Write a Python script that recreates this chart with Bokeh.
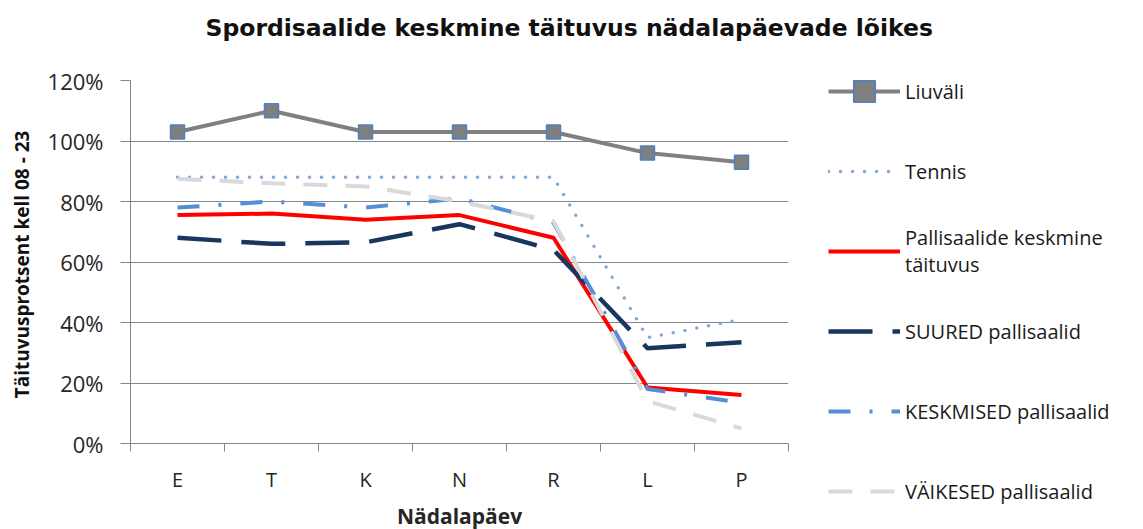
from bokeh.plotting import figure
from bokeh.models import (FixedTicker, NumeralTickFormatter, Range1d, Legend, LegendItem, Title)
from bokeh.embed import file_html
from bokeh.resources import INLINE

days = ["E", "T", "K", "N", "R", "L", "P"]
liuvali = [1.03, 1.10, 1.03, 1.03, 1.03, 0.96, 0.93]
tennis = [0.88, 0.88, 0.88, 0.88, 0.88, 0.35, 0.41]
pallisaalid = [0.755, 0.76, 0.74, 0.755, 0.68, 0.185, 0.16]
suured = [0.68, 0.66, 0.665, 0.725, 0.64, 0.315, 0.335]
keskmised = [0.78, 0.80, 0.78, 0.81, 0.73, 0.18, 0.135]
vaikesed = [0.875, 0.86, 0.85, 0.80, 0.735, 0.14, 0.05]

FONT = "Open Sans"
TXT = "#262626"

xs = [i + 0.5 for i in range(len(days))]

p = figure(frame_width=658, frame_height=363, output_backend="svg", toolbar_location=None,
           title_location=None,
           x_range=Range1d(0, len(days)), y_range=Range1d(0, 1.2),
           min_border_left=130, min_border_right=0, min_border_top=80, min_border_bottom=80)
p.outline_line_color = None
p.background_fill_color = "white"

# axes
p.xaxis.ticker = FixedTicker(ticks=xs, minor_ticks=list(range(len(days) + 1)))
p.xaxis.major_label_overrides = {x: d for x, d in zip(xs, days)}
p.xaxis.major_tick_line_color = None
p.xaxis.major_tick_out = 0
p.xaxis.major_tick_in = 0
p.xaxis.minor_tick_line_color = "#868686"
p.xaxis.minor_tick_out = 8
p.xaxis.minor_tick_in = 0
p.xaxis.axis_line_color = "#868686"
p.xaxis.major_label_text_font = FONT
p.xaxis.major_label_text_font_size = "20px"
p.xaxis.major_label_text_color = TXT
p.xaxis.major_label_standoff = 14
p.xaxis.axis_label = "Nädalapäev"
p.xaxis.axis_label_text_font = FONT
p.xaxis.axis_label_text_font_style = "bold"
p.xaxis.axis_label_text_font_size = "21px"
p.xaxis.axis_label_text_color = TXT
p.xaxis.axis_label_standoff = 6

p.yaxis.ticker = FixedTicker(ticks=[0, 0.2, 0.4, 0.6, 0.8, 1.0, 1.2])
p.yaxis.formatter = NumeralTickFormatter(format="0%")
p.yaxis.minor_tick_line_color = None
p.yaxis.major_tick_line_color = "#868686"
p.yaxis.major_tick_out = 10
p.yaxis.major_tick_in = 0
p.yaxis.axis_line_color = "#868686"
p.yaxis.major_label_text_font = FONT
p.yaxis.major_label_text_font_size = "22px"
p.yaxis.major_label_text_color = TXT
p.yaxis.major_label_standoff = 17
p.yaxis.axis_label = "Täituvusprotsent  kell 08 - 23"
p.yaxis.axis_label_text_font = FONT
p.yaxis.axis_label_text_font_style = "bold"
p.yaxis.axis_label_text_font_size = "19px"
p.yaxis.axis_label_text_color = "#111111"
p.yaxis.axis_label_standoff = 10

p.xgrid.grid_line_color = None
p.ygrid.grid_line_color = "#868686"
p.ygrid.grid_line_width = 1

# spacer (closest to the frame) then the chart title above it
p.add_layout(Title(text=" ", text_font_size="1px", standoff=30), "above")
p.add_layout(Title(text="Spordisaalide keskmine täituvus nädalapäevade lõikes", align="left", offset=75,
                   text_font="DejaVu Sans", text_font_size="23.5px", text_font_style="bold", text_color="#111111",
                   standoff=12), "above")

# series
r1 = p.line(xs, liuvali, line_color="#808080", line_width=4)
r1m = p.scatter(xs, liuvali, marker="square", size=14, fill_color="#7f7f7f", line_color="#4f81bd", line_width=1.5)
r2 = p.line(xs, tennis, line_color="#7fa7de", line_width=3.5, line_dash="0 12", line_cap="round")
r3 = p.line(xs, pallisaalid, line_color="#ff0000", line_width=4)
r4 = p.line(xs, suured, line_color="#17375e", line_width=4.5, line_dash="44 20")
r5 = p.line(xs, keskmised, line_color="#558ed5", line_width=4, line_dash="22 19 3 19")
r6 = p.line(xs, vaikesed, line_color="#d9d9d9", line_width=4, line_dash="24 18")

items = [
    LegendItem(label="Liuväli", renderers=[r1, r1m]),
    LegendItem(label="Tennis", renderers=[r2]),
    LegendItem(label="Pallisaalide keskmine\ntäituvus", renderers=[r3]),
    LegendItem(label="SUURED pallisaalid", renderers=[r4]),
    LegendItem(label="KESKMISED pallisaalid", renderers=[r5]),
    LegendItem(label="VÄIKESED pallisaalid", renderers=[r6]),
]
lg = Legend(items=items, location=(40, -75),
            glyph_width=72, glyph_height=54, label_height=54, spacing=26,
            label_standoff=5, padding=0, margin=0,
            border_line_color=None, background_fill_alpha=0,
            label_text_font=FONT, label_text_font_size="20px", label_text_color="#1a1a1a")
p.add_layout(lg, "right")

open("out.html", "w").write(file_html(p, INLINE))
